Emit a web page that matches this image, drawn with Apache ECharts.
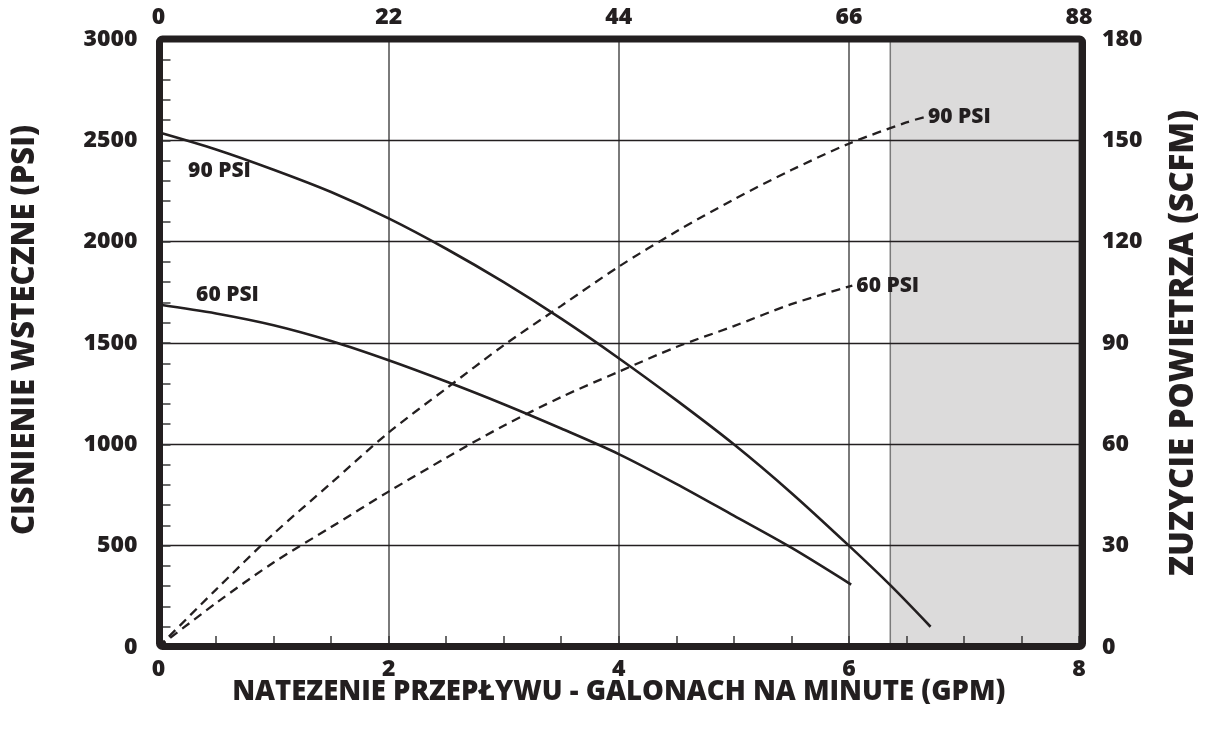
<!DOCTYPE html>
<html>
<head>
<meta charset="utf-8">
<title>Wydajność pompy</title>
<script src="https://cdn.jsdelivr.net/npm/echarts@6/dist/echarts.min.js"></script>
<style>
  html, body { margin: 0; padding: 0; background: #fff; }
  #chart { width: 1208px; height: 731px; }
</style>
</head>
<body>
<div id="chart"></div>
<script>
// Flow axis (GPM) and the matching top scale
const flowTicks = [0, 2, 4, 6, 8];
const topTicks = [0, 22, 44, 66, 88];
const pressureTicks = [0, 500, 1000, 1500, 2000, 2500, 3000];
const airTicks = [0, 30, 60, 90, 120, 150, 180];

// Back pressure curves (PSI) at 90 and 60 PSI air inlet
const gpm90 = [0, 0.5, 1, 1.5, 2, 2.5, 3, 3.5, 4, 4.5, 5, 5.5, 6, 6.36, 6.71];
const psi90 = [2540, 2455, 2355, 2245, 2115, 1965, 1800, 1620, 1425, 1218, 1000, 760, 500, 305, 100];
const gpm60 = [0, 0.5, 1, 1.5, 2, 2.5, 3, 3.5, 4, 4.5, 5, 5.5, 6.02];
const psi60 = [1690, 1646, 1588, 1510, 1415, 1310, 1198, 1078, 952, 805, 648, 490, 308];

// Air consumption curves (SCFM)
const airGpm90 = [0, 0.5, 1, 1.5, 2, 2.5, 3, 3.5, 4, 4.5, 5, 5.5, 6, 6.5, 6.67];
const scfm90 = [0, 17, 33.5, 48.5, 63.5, 76.5, 89.3, 101, 112.6, 123, 132.5, 141.2, 149, 155.3, 157];
const airGpm60 = [0, 0.5, 1, 1.5, 2, 2.5, 3, 3.5, 4, 4.5, 5, 5.5, 6.03];
const scfm60 = [0, 13, 25, 35.5, 46, 56, 65.5, 74, 81.5, 88.8, 95, 101.5, 107];

// Shaded region beyond recommended flow
const shadedFrom = 6.36;
const shadedTo = 8;

const INK = '#231f20';
const FONT = '"Open Sans", "Noto Sans", sans-serif';
const G = { left: 158.5, top: 39, right: 1081.5, bottom: 647 };

const pairs = (xs, ys) => xs.map((x, i) => [x, ys[i]]);
const plain = v => String(v);

const chart = echarts.init(document.getElementById('chart'), null, { renderer: 'canvas' });

const labelStyle = { color: INK, fontFamily: FONT, fontWeight: 800, fontSize: 23, formatter: plain };
const curveLabel = { color: INK, fontFamily: FONT, fontWeight: 800, fontSize: 21 };
const titleStyle = (size, padding) => ({ color: INK, fontFamily: FONT, fontWeight: 800, fontSize: size, padding: padding || 0 });

const option = {
  backgroundColor: '#ffffff',
  animation: false,
  grid: {
    left: G.left, top: G.top,
    width: G.right - G.left, height: G.bottom - G.top,
    containLabel: false
  },
  xAxis: [
    {
      type: 'value', position: 'bottom', min: flowTicks[0], max: flowTicks[flowTicks.length - 1], interval: 2,
      axisLine: { show: false }, axisTick: { show: false },
      axisLabel: Object.assign({ margin: 11 }, labelStyle),
      splitLine: { show: true, lineStyle: { color: '#7a7a7a', width: 2 } },
      name: 'NATEZENIE PRZEPŁYWU - GALONACH NA MINUTE (GPM)',
      nameLocation: 'middle', nameGap: 31, nameMoveOverlap: false,
      nameTextStyle: titleStyle(27.5)
    },
    {
      type: 'value', position: 'top', min: topTicks[0], max: topTicks[topTicks.length - 1], interval: 22,
      axisLine: { show: false }, axisTick: { show: false }, splitLine: { show: false },
      axisLabel: Object.assign({ margin: 10 }, labelStyle)
    },
    {
      // minor flow ticks every 0.5 GPM
      type: 'value', position: 'bottom', min: 0, max: 8, interval: 0.5, z: 3,
      axisLine: { show: false }, axisLabel: { show: false }, splitLine: { show: false },
      axisTick: { show: true, inside: true, length: 11, lineStyle: { color: '#3a3a3a', width: 1.5 } }
    }
  ],
  yAxis: [
    {
      type: 'value', position: 'left', min: pressureTicks[0], max: pressureTicks[pressureTicks.length - 1], interval: 500, z: 2,
      axisLine: { show: false }, axisTick: { show: false },
      axisLabel: Object.assign({ margin: 21 }, labelStyle),
      splitLine: { show: true, lineStyle: { color: INK, width: 1.3 } },
      name: 'CISNIENIE WSTECZNE (PSI)',
      nameLocation: 'middle', nameGap: 118, nameRotate: 90, nameMoveOverlap: false,
      nameTextStyle: titleStyle(31, [0, 0, 0, 26])
    },
    {
      type: 'value', position: 'right', min: airTicks[0], max: airTicks[airTicks.length - 1], interval: 30,
      axisLine: { show: false }, axisTick: { show: false }, splitLine: { show: false },
      axisLabel: Object.assign({ margin: 23 }, labelStyle),
      name: 'ZUZYCIE POWIETRZA (SCFM)',
      nameLocation: 'middle', nameGap: 88, nameRotate: 90, nameMoveOverlap: false,
      nameTextStyle: titleStyle(33)
    },
    {
      // minor pressure ticks every 100 PSI
      type: 'value', position: 'left', min: 0, max: 3000, interval: 100, z: 3,
      axisLine: { show: false }, axisLabel: { show: false }, splitLine: { show: false },
      axisTick: { show: true, inside: true, length: 12, lineStyle: { color: '#3a3a3a', width: 1.5 } }
    }
  ],
  series: [
    {
      name: 'shaded', type: 'line', data: [], xAxisIndex: 0, yAxisIndex: 0,
      markArea: {
        silent: true, z: 1,
        itemStyle: { color: '#dcdbdb', borderColor: '#7a7a7a', borderWidth: 1.5 },
        data: [[{ xAxis: shadedFrom, yAxis: 0 }, { xAxis: shadedTo, yAxis: 3000 }]]
      }
    },
    {
      name: '90 PSI', type: 'line', z: 5, xAxisIndex: 0, yAxisIndex: 0,
      data: pairs(gpm90, psi90), smooth: 0.3, showSymbol: false,
      lineStyle: { color: INK, width: 2.6 },
      markPoint: {
        symbol: 'circle', symbolSize: 1, itemStyle: { color: 'rgba(0,0,0,0)' },
        label: Object.assign({ show: true, formatter: '90 PSI', position: 'inside', offset: [61, 39] }, curveLabel),
        data: [{ coord: [gpm90[0], psi90[0]] }]
      }
    },
    {
      name: '60 PSI', type: 'line', z: 5, xAxisIndex: 0, yAxisIndex: 0,
      data: pairs(gpm60, psi60), smooth: 0.3, showSymbol: false,
      lineStyle: { color: INK, width: 2.6 },
      markPoint: {
        symbol: 'circle', symbolSize: 1, itemStyle: { color: 'rgba(0,0,0,0)' },
        label: Object.assign({ show: true, formatter: '60 PSI', position: 'inside', offset: [69, -9] }, curveLabel),
        data: [{ coord: [gpm60[0], psi60[0]] }]
      }
    },
    {
      name: '90 PSI', type: 'line', z: 5, xAxisIndex: 0, yAxisIndex: 1,
      data: pairs(airGpm90, scfm90), smooth: 0.3, showSymbol: false,
      lineStyle: { color: INK, width: 2.3, type: [9, 6] },
      endLabel: Object.assign({ show: true, formatter: '{a}', distance: 2 }, curveLabel)
    },
    {
      name: '60 PSI', type: 'line', z: 5, xAxisIndex: 0, yAxisIndex: 1,
      data: pairs(airGpm60, scfm60), smooth: 0.3, showSymbol: false,
      lineStyle: { color: INK, width: 2.3, type: [9, 6] },
      endLabel: Object.assign({ show: true, formatter: '{a}', distance: 4 }, curveLabel)
    }
  ],
  graphic: [
    {
      // heavy frame around the plot area
      type: 'rect', z: 100, silent: true,
      shape: { x: G.left + 1, y: G.top, width: G.right - G.left, height: G.bottom - 0.5 - G.top, r: 3 },
      style: { fill: 'none', stroke: INK, lineWidth: 7 }
    }
  ]
};

chart.setOption(option);
</script>
</body>
</html>
